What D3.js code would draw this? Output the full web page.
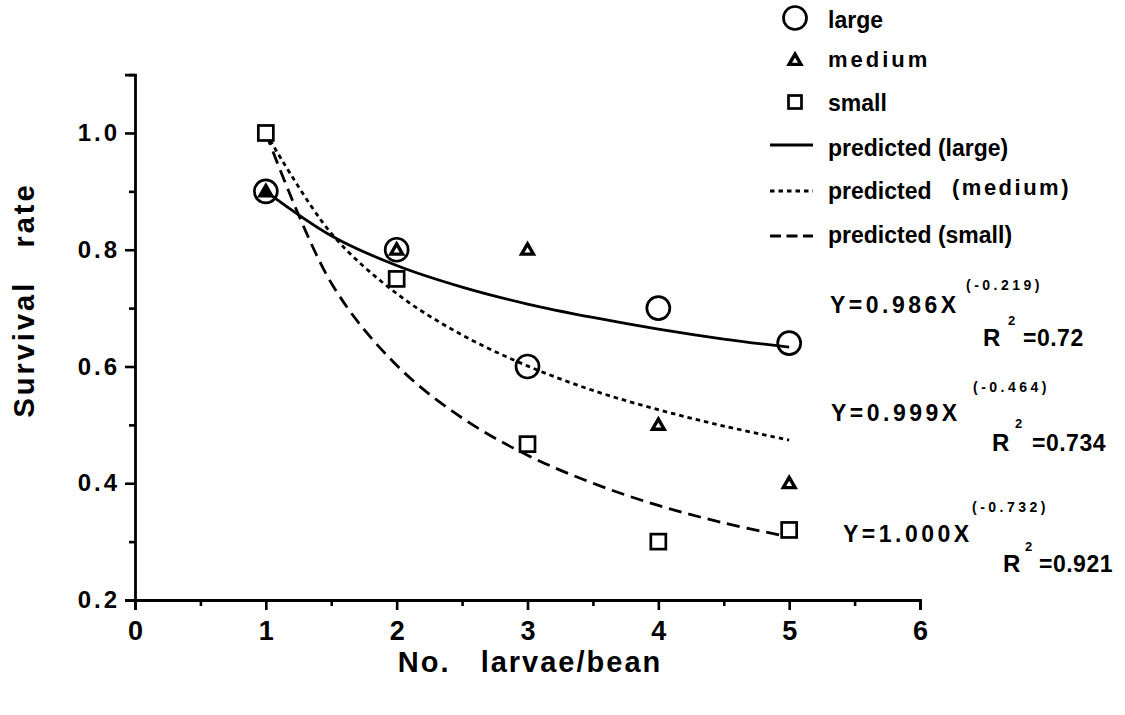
<!DOCTYPE html>
<html>
<head>
<meta charset="utf-8">
<script src="https://cdn.jsdelivr.net/npm/d3@7"></script>
<style>
  body { margin: 0; background: #fff; }
  svg text { font-family: "Liberation Sans", Arial, sans-serif; font-weight: bold; fill: #000; white-space: pre; }
  .narrow { font-family: "Liberation Sans Narrow", "Liberation Sans", Arial, sans-serif; }
</style>
</head>
<body>
<div id="chart"></div>
<script>
// observed survival per density
const larvae = [1, 2, 3, 4, 5]
const largeObs = [0.9, 0.8, 0.6, 0.7, 0.64]
const mediumObs = [0.9, 0.8, 0.8, 0.5, 0.4]
const smallObs = [1.0, 0.75, 0.467, 0.3, 0.32]

// predicted curves
const fitX = [1, 1.5, 2, 2.5, 3, 3.5, 4, 4.5, 5]
const largeFit = [0.90, 0.824, 0.773, 0.736, 0.707, 0.684, 0.664, 0.647, 0.633]
const mediumFit = [1.0, 0.828, 0.725, 0.654, 0.601, 0.559, 0.526, 0.498, 0.474]
const smallFit = [1.0, 0.743, 0.602, 0.512, 0.448, 0.400, 0.362, 0.332, 0.308]

const xTicks = [0, 1, 2, 3, 4, 5, 6]
const yTicks = [0.2, 0.4, 0.6, 0.8, 1.0]
const yMinor = [0.3, 0.5, 0.7, 0.9, 1.1]
const xMinor = [0.5, 1.5, 2.5, 3.5, 4.5, 5.5]

const eqMain = ["Y=0.986X", "Y=0.999X", "Y=1.000X"]
const eqExp = ["(-0.219)", "(-0.464)", "(-0.732)"]
const eqR2 = ["=0.72", "=0.734", "=0.921"]

var W = 1125, H = 715
var svg = d3.select("#chart").append("svg").attr("width", W).attr("height", H)

var x = d3.scaleLinear().domain([0, 6]).range([135, 920])
var y = d3.scaleLinear().domain([0.2, 1.1]).range([600, 74.6])

//////////////////
//// axes
//////////////////
var yAxis = svg.append("g").attr("transform", "translate(" + x(0) + ",0)")
  .call(d3.axisLeft(y).tickValues(yTicks).tickSize(10).tickFormat(d3.format(".1f")))
var yAxisMinor = svg.append("g").attr("transform", "translate(" + x(0) + ",0)")
  .call(d3.axisLeft(y).tickValues(yMinor).tickSize(6).tickFormat(""))
var xAxis = svg.append("g").attr("transform", "translate(0," + y(0.2) + ")")
  .call(d3.axisBottom(x).tickValues(xTicks).tickSize(10).tickFormat(d3.format("d")))
var xAxisMinor = svg.append("g").attr("transform", "translate(0," + y(0.2) + ")")
  .call(d3.axisBottom(x).tickValues(xMinor).tickSize(6).tickFormat(""))

;[yAxis, yAxisMinor, xAxis, xAxisMinor].forEach(g => {
  g.select(".domain").attr("stroke", "#000").attr("stroke-width", 2.8)
  g.selectAll(".tick line").attr("stroke", "#000").attr("stroke-width", 2.6)
})
yAxisMinor.select(".domain").remove()
xAxisMinor.select(".domain").remove()

yAxis.selectAll(".tick text")
  .attr("x", -15)
  .style("font-size", "24px")
  .style("letter-spacing", "3px")
xAxis.selectAll(".tick text")
  .attr("class", "narrow")
  .attr("y", 21)
  .style("font-size", "27px")

svg.append("text")
  .attr("transform", "translate(34,300) rotate(-90)")
  .attr("text-anchor", "middle")
  .style("font-size", "29px")
  .style("letter-spacing", "3px")
  .text("Survival   rate")

svg.append("text")
  .attr("x", 530).attr("y", 672)
  .attr("text-anchor", "middle")
  .style("font-size", "29px")
  .style("letter-spacing", "2px")
  .text("No.   larvae/bean")

//////////////////
//// curves
//////////////////
var line = d3.line()
  .x(d => x(d[0]))
  .y(d => y(d[1]))
  .curve(d3.curveCatmullRom)

var fits = [
  { vals: largeFit, dash: null },
  { vals: mediumFit, dash: "4.5,4" },
  { vals: smallFit, dash: "13,7" }
]
fits.forEach(f => {
  svg.append("path")
    .datum(d3.zip(fitX, f.vals))
    .attr("d", line)
    .attr("fill", "none")
    .attr("stroke", "#000")
    .attr("stroke-width", 2.8)
    .attr("stroke-dasharray", f.dash)
})

//////////////////
//// markers
//////////////////
var tri = d3.symbol().type(d3.symbolTriangle).size(60)

function drawCircles(g, pts) {
  g.selectAll("circle.big")
    .data(pts)
    .enter()
    .append("circle")
    .attr("cx", d => d[0])
    .attr("cy", d => d[1])
    .attr("r", 11.5)
    .attr("fill", "none")
    .attr("stroke", "#000")
    .attr("stroke-width", 2.7)
}
function drawSquares(g, pts) {
  g.selectAll("rect.sq")
    .data(pts)
    .enter()
    .append("rect")
    .attr("x", d => d[0] - 7.5)
    .attr("y", d => d[1] - 7.5)
    .attr("width", 15)
    .attr("height", 15)
    .attr("fill", "#fff")
    .attr("stroke", "#000")
    .attr("stroke-width", 2.7)
}
function drawTriangles(g, pts) {
  g.selectAll("path.tri")
    .data(pts)
    .enter()
    .append("path")
    .attr("d", tri)
    .attr("transform", d => "translate(" + d[0] + "," + (d[1] + 1) + ")")
    .attr("fill", "#fff")
    .attr("stroke", "#000")
    .attr("stroke-width", 3.4)
    .attr("stroke-linejoin", "miter")
}

var marks = svg.append("g")
drawSquares(marks, larvae.map((v, i) => [x(v), y(smallObs[i])]))
drawCircles(marks, larvae.map((v, i) => [x(v), y(largeObs[i])]))
drawTriangles(marks, larvae.map((v, i) => [x(v), y(mediumObs[i])]))
// the first triangle is printed solid
marks.select("path").attr("fill", "#000")

//////////////////
//// legend
//////////////////
var lg = svg.append("g")
drawCircles(lg, [[795, 18]])
drawTriangles(lg, [[795, 60]])
drawSquares(lg, [[795, 102]])
lg.select("rect").attr("width", 13).attr("height", 13).attr("x", 788.5).attr("y", 95.5)

var legLines = [
  { y: 145, dash: null },
  { y: 191, dash: "4.5,4" },
  { y: 236, dash: "11,5.5" }
]
legLines.forEach(l => {
  lg.append("line")
    .attr("x1", 770).attr("x2", 813)
    .attr("y1", l.y).attr("y2", l.y)
    .attr("stroke", "#000")
    .attr("stroke-width", 2.8)
    .attr("stroke-dasharray", l.dash)
})

var legText = [
  { t: "large", y: 28, size: 23, ls: 0 },
  { t: "medium", y: 67, size: 22, ls: 3 },
  { t: "small", y: 111, size: 23, ls: 0 },
  { t: "predicted (large)", y: 156, size: 23, ls: 0 },
  { t: "predicted", y: 199, size: 23, ls: 0 },
  { t: "predicted (small)", y: 243, size: 23, ls: 0 }
]
legText.forEach(d => {
  lg.append("text")
    .attr("x", 828).attr("y", d.y)
    .style("font-size", d.size + "px")
    .style("letter-spacing", d.ls + "px")
    .text(d.t)
})
lg.append("text")
  .attr("x", 952).attr("y", 195)
  .style("font-size", "22px")
  .style("letter-spacing", "2.5px")
  .text("(medium)")

//////////////////
//// equations
//////////////////
var eqPos = [
  { mx: 830, my: 313, ex: 966, ey: 290, rx: 983, ry: 346, sx: 1008, sy: 325, qx: 1023 },
  { mx: 831, my: 421, ex: 973, ey: 392, rx: 992, ry: 451, sx: 1015, sy: 428, qx: 1032 },
  { mx: 843, my: 542, ex: 972, ey: 512, rx: 1003, ry: 572, sx: 1025, sy: 551, qx: 1039 }
]
var eq = svg.append("g")
eqPos.forEach((p, i) => {
  eq.append("text").attr("x", p.mx).attr("y", p.my)
    .style("font-size", "23px").style("letter-spacing", "3.5px")
    .text(eqMain[i])
  eq.append("text").attr("class", "narrow").attr("x", p.ex).attr("y", p.ey)
    .style("font-size", "14px").style("letter-spacing", "3.5px")
    .text(eqExp[i])
  eq.append("text").attr("x", p.rx).attr("y", p.ry)
    .style("font-size", "24px")
    .text("R")
  eq.append("text").attr("class", "narrow").attr("x", p.sx).attr("y", p.sy)
    .style("font-size", "13px")
    .text("2")
  eq.append("text").attr("x", p.qx).attr("y", p.ry)
    .style("font-size", "23px").style("letter-spacing", "0.5px")
    .text(eqR2[i])
})
</script>
</body>
</html>
